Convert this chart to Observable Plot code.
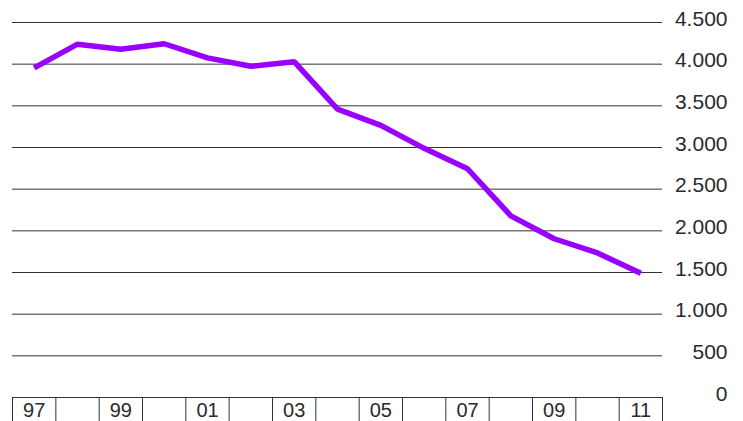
<!DOCTYPE html>
<html>
<head>
<meta charset="utf-8">
<script src="https://cdn.jsdelivr.net/npm/d3@7"></script>
<script src="https://cdn.jsdelivr.net/npm/@observablehq/plot@0.6"></script>
<style>
  html, body { margin: 0; padding: 0; background: #fff; overflow: hidden; }
  svg { display: block; }
</style>
</head>
<body>
<div id="chart"></div>
<script>
const years = [1997, 1998, 1999, 2000, 2001, 2002, 2003, 2004, 2005, 2006, 2007, 2008, 2009, 2010, 2011];
const values = [3955, 4240, 4178, 4245, 4075, 3975, 4030, 3460, 3265, 2990, 2745, 2180, 1905, 1735, 1490];
const yTicks = [0, 500, 1000, 1500, 2000, 2500, 3000, 3500, 4000, 4500];
const xLabelYears = [1997, 1999, 2001, 2003, 2005, 2007, 2009, 2011];
const xLabels = ["97", "99", "01", "03", "05", "07", "09", "11"];

const data = years.map((year, i) => ({year, value: values[i]}));
const xMin = years[0] - 0.5, xMax = years[years.length - 1] + 0.5;
const boundaries = [...years.map(y => y - 0.5), xMax];
const labelData = xLabelYears.map((year, i) => ({year, label: xLabels[i]}));
const fmt = d3.formatLocale({decimal: ",", thousands: ".", grouping: [3], currency: ["", ""]}).format(",");

const chart = Plot.plot({
  width: 743,
  height: 421,
  marginLeft: 12,
  marginRight: 81,
  marginTop: 22,
  marginBottom: 24,
  style: {fontFamily: "'Liberation Sans', Arial, sans-serif", background: "#fff"},
  x: {domain: [xMin, xMax], axis: null},
  y: {domain: [0, 4500], axis: null},
  marks: [
    Plot.ruleY(yTicks, {y: d => d, x1: xMin, x2: xMax, stroke: "#333", strokeWidth: 1, strokeOpacity: 1}),
    Plot.ruleX(boundaries, {x: d => d, y1: 0, y2: 0, insetBottom: -30, stroke: "#333", strokeWidth: 1, strokeOpacity: 1}),
    Plot.text(yTicks, {x: xMax, y: d => d, text: d => fmt(d), textAnchor: "end", dx: 65, dy: -3.5, fontSize: 21, fill: "#2a2a2a"}),
    Plot.text(labelData, {x: "year", y: 0, text: "label", textAnchor: "middle", dy: 13, fontSize: 20, fill: "#2a2a2a"}),
    Plot.line(data, {x: "year", y: "value", stroke: "#9900ff", strokeWidth: 5.5, strokeLinejoin: "miter", strokeLinecap: "butt"})
  ]
});
document.getElementById("chart").appendChild(chart);
</script>
</body>
</html>
